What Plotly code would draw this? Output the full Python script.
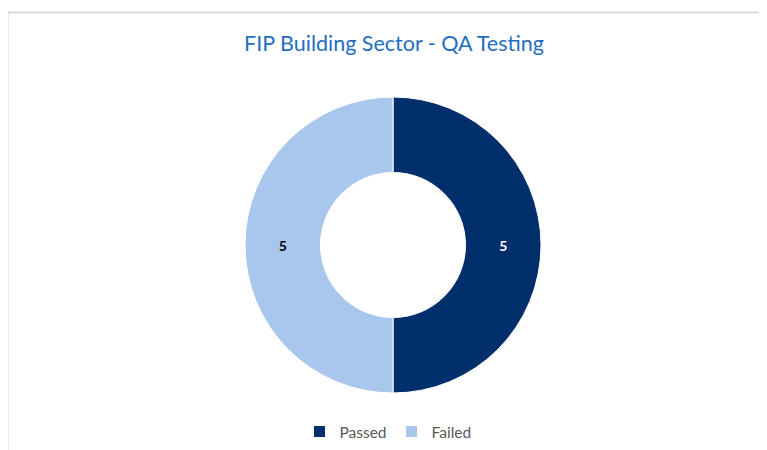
import plotly.graph_objects as go

labels = ["Passed", "Failed"]
values = [5, 5]
colors = ["#002F6C", "#A9C6EC"]
text_colors = ["#FFFFFF", "#000000"]
title_text = "FIP Building Sector - QA Testing"

W, H = 767, 450
OFF = 8  # page body margin
cx, cy, R = 393 - OFF, 245 - OFF, 148

fig = go.Figure(go.Pie(
    labels=labels, values=values, sort=False, direction="clockwise", rotation=0,
    hole=0.49,
    marker=dict(colors=colors, line=dict(color="#FFFFFF", width=1)),
    textinfo="value", textposition="inside", insidetextorientation="horizontal",
    textfont=dict(family="Lato", size=14, color=text_colors, weight="bold"),
    hoverinfo="label+value",
    domain=dict(x=[(cx - R) / W, (cx + R) / W], y=[(H - cy - R) / H, (H - cy + R) / H]),
))

fig.update_layout(
    width=W, height=H,
    margin=dict(l=0, r=0, t=0, b=0),
    paper_bgcolor="white", plot_bgcolor="white",
    title=dict(text=title_text, x=(394 - OFF) / W, xanchor="center", y=1 - (43 - OFF) / H,
               yanchor="middle",
               font=dict(family="Lato", size=21.5, color="#1F6EC0")),
    showlegend=True,
    legend=dict(orientation="h", x=(388 - OFF) / W, xanchor="center", y=1 - (432 - OFF) / H,
                yanchor="middle",
                font=dict(family="Lato", size=15.5, color="#595959"), itemwidth=30,
                traceorder="normal"),
    shapes=[dict(type="rect", xref="paper", yref="paper",
                 x0=(7.5 - OFF) / W + 0.0, x1=1.2, y0=-0.2, y1=1 - (12.5 - OFF) / H,
                 line=dict(color="#D9D9D9", width=2), fillcolor="rgba(0,0,0,0)", layer="below")],
)

fig.write_html("out.html")
